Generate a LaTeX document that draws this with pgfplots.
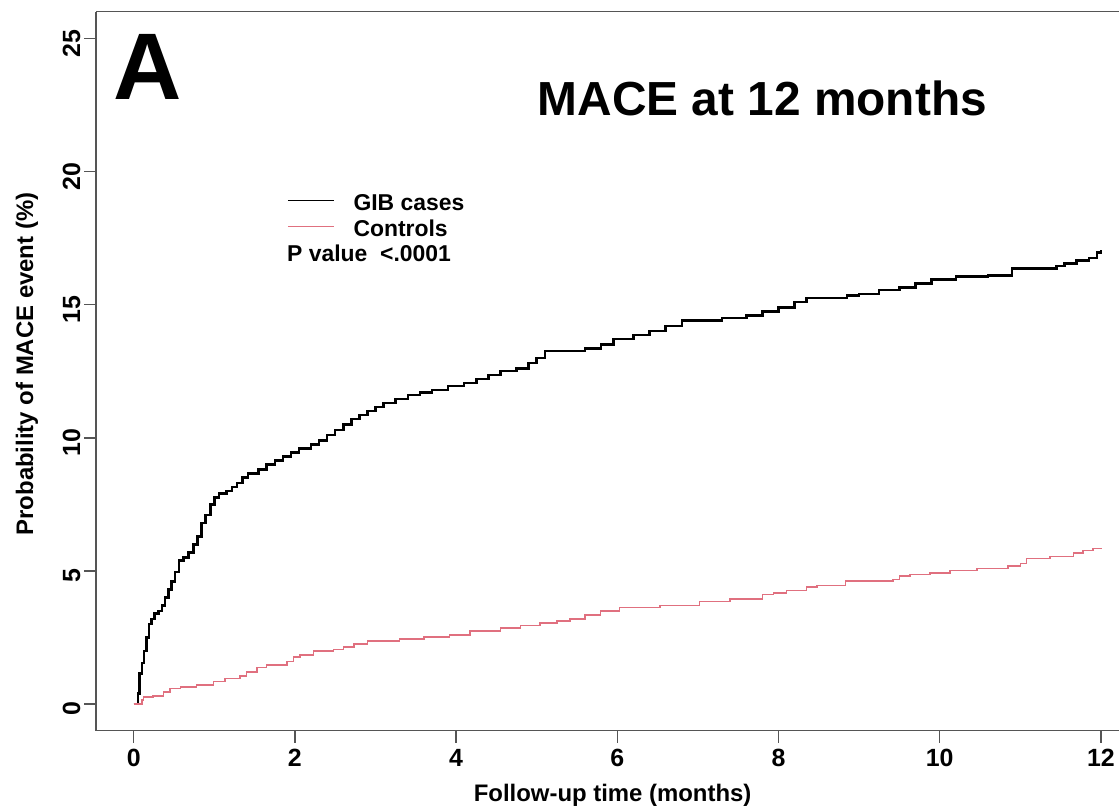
\documentclass[border=0pt]{standalone}
\usepackage{fontspec}
\setmainfont{Liberation Sans}
\usepackage{pgfplots}
\pgfplotsset{compat=1.18}
\definecolor{ctrl}{HTML}{E0707F}
\definecolor{frame}{HTML}{555555}
\begin{document}
\begin{tikzpicture}[x=1bp,y=1bp]
\useasboundingbox (0,0) rectangle (1119,809);
\begin{axis}[
  at={(96bp,78.3bp)}, anchor=south west,
  scale only axis, width=1023bp, height=719bp,
  xmin=-0.468, xmax=12.225, ymin=-1, ymax=26,
  axis x line*=box, axis y line*=left,
  xtick={0,2,...,12}, ytick={0,5,...,25},
  xtick pos=left,
  tick align=outside, major tick length=12bp,
  axis line style={color=frame, line width=1.5bp},
  tick style={color=frame, line width=1.5bp},
  /pgf/number format/assume math mode=true,
  ticklabel style={font=\fontsize{25}{30}\selectfont\bfseries},
  yticklabel style={rotate=90, anchor=south, xshift=-5bp},
  xticklabel style={yshift=-3bp},
  xlabel={Follow-up time (months)},
  ylabel={Probability of MACE event (\%)},
  xlabel style={at={(axis description cs:0.505,-0.0894)}, anchor=center, font=\fontsize{24}{28}\selectfont\bfseries},
  ylabel style={at={(axis description cs:-0.0674,0.51)}, anchor=center, font=\fontsize{24}{28}\selectfont\bfseries},
  legend style={at={(axis cs:1.902,19.16)}, anchor=north west, draw=none, fill=none,
    font=\fontsize{23}{27}\selectfont\bfseries, inner sep=0pt, outer sep=0pt, row sep=3bp,
    nodes={inner sep=0pt, text height=17bp, text depth=6bp},
    /tikz/every odd column/.append style={column sep=19bp}},
  legend cell align=left,
  legend image code/.code={\draw[#1, line width=1.5bp] (0bp,5bp) -- (46bp,5bp);},
  clip=false,
]
\addplot[const plot, black, line width=2.5bp] coordinates {
(0,0) (0.05,0.4) (0.07,1.15) (0.10,1.55) (0.13,2.0) (0.16,2.5) (0.19,3.0) (0.22,3.2)
(0.26,3.4) (0.31,3.5) (0.35,3.7) (0.39,4.0) (0.43,4.3) (0.47,4.6) (0.51,4.95) (0.56,5.4)
(0.62,5.5) (0.68,5.7) (0.74,6.0) (0.79,6.3) (0.84,6.8) (0.89,7.1) (0.95,7.5) (1.0,7.75)
(1.06,7.9) (1.15,8.0) (1.22,8.15) (1.28,8.3) (1.35,8.5) (1.42,8.65) (1.55,8.8) (1.65,9.0)
(1.75,9.15) (1.85,9.3) (1.95,9.45) (2.05,9.6) (2.2,9.75) (2.3,9.9) (2.4,10.1) (2.5,10.3)
(2.6,10.5) (2.7,10.7) (2.8,10.85) (2.9,11.0) (3.0,11.15) (3.1,11.3) (3.25,11.45) (3.4,11.6)
(3.55,11.7) (3.7,11.8) (3.9,11.95) (4.1,12.05) (4.25,12.2) (4.4,12.35) (4.55,12.5) (4.75,12.6)
(4.9,12.8) (5.0,13.0) (5.1,13.25) (5.6,13.35) (5.8,13.5) (5.95,13.7) (6.2,13.85) (6.4,14.0)
(6.6,14.2) (6.8,14.4) (7.3,14.5) (7.6,14.6) (7.8,14.75) (8.0,14.9) (8.2,15.1) (8.35,15.25)
(8.85,15.35) (9.0,15.4) (9.25,15.55) (9.5,15.65) (9.7,15.8) (9.9,15.95) (10.2,16.05) (10.6,16.1)
(10.9,16.35) (11.45,16.45) (11.55,16.55) (11.7,16.65) (11.85,16.75) (11.95,16.95) (12.0,17.05)
};
\addlegendentry{GIB cases}
\addplot[const plot, ctrl, line width=1.5bp] coordinates {
(0,0) (0.1,0.15) (0.12,0.27) (0.24,0.3) (0.37,0.46) (0.45,0.59) (0.58,0.65) (0.78,0.71)
(0.99,0.84) (1.13,0.96) (1.32,1.05) (1.4,1.21) (1.53,1.38) (1.65,1.46) (1.9,1.59) (1.98,1.76)
(2.06,1.84) (2.23,1.99) (2.48,2.05) (2.6,2.15) (2.73,2.25) (2.9,2.37) (3.3,2.44) (3.6,2.52)
(3.92,2.6) (4.17,2.74) (4.55,2.85) (4.8,2.95) (5.04,3.04) (5.25,3.12) (5.41,3.2) (5.6,3.35)
(5.79,3.5) (6.03,3.63) (6.53,3.7) (7.02,3.86) (7.4,3.94) (7.8,4.11) (7.94,4.17) (8.1,4.27)
(8.35,4.4) (8.48,4.46) (8.83,4.62) (9.42,4.68) (9.5,4.8) (9.63,4.87) (9.88,4.92) (10.13,5.02)
(10.46,5.09) (10.85,5.19) (11.0,5.28) (11.08,5.46) (11.37,5.55) (11.66,5.67) (11.78,5.77) (11.9,5.85) (12.0,5.87)
};
\addlegendentry{Controls}
\node[font=\fontsize{48}{56}\selectfont\bfseries, inner sep=0pt] at (axis cs:7.80,22.76) {MACE at 12 months};
\node[font=\fontsize{95}{100}\selectfont\bfseries, inner sep=0pt] at (axis cs:0.171,23.92) {A};
\node[font=\fontsize{23}{27}\selectfont\bfseries, inner sep=0pt, anchor=west] at (axis cs:1.902,16.91) {P value\ \ <.0001};
\end{axis}
\end{tikzpicture}
\end{document}
